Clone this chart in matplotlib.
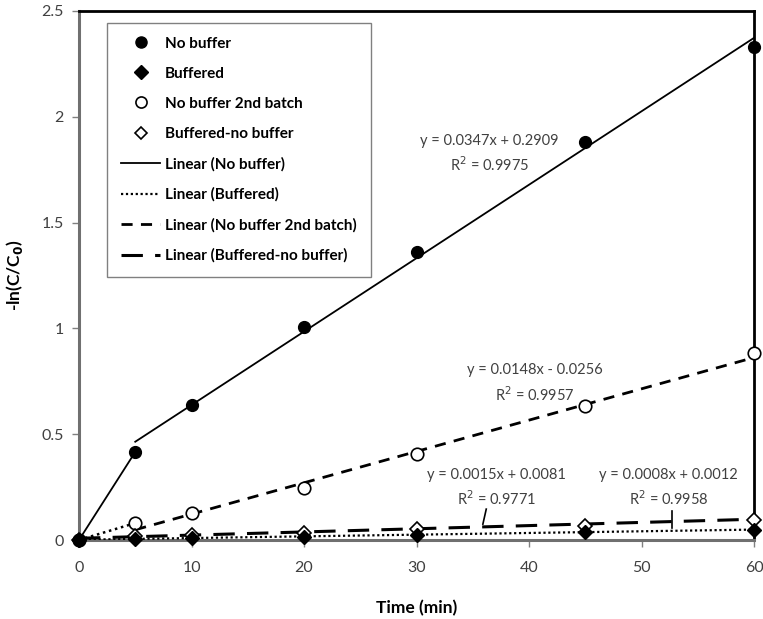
import matplotlib
matplotlib.use("Agg")
import matplotlib.pyplot as plt
from matplotlib.lines import Line2D
import numpy as np

plt.rcParams['font.family'] = ['Lato', 'DejaVu Sans']

# Sampling times (min)
time = [0, 5, 10, 20, 30, 45, 60]

# -ln(C/C0) for each run
no_buffer = [0, 0.416, 0.638, 1.005, 1.36, 1.88, 2.33]
buffered = [0, 0.005, 0.008, 0.015, 0.025, 0.038, 0.047]
no_buffer_2nd = [0, 0.08, 0.128, 0.246, 0.407, 0.632, 0.884]
buffered_no_buffer = [0, 0.02, 0.025, 0.035, 0.05, 0.068, 0.095]

# Linear trendline coefficients (slope, intercept) and R^2
fit_no_buffer = (0.0347, 0.2909, 0.9975)
fit_buffered = (0.0008, 0.0012, 0.9958)
fit_2nd = (0.0148, -0.0256, 0.9957)
fit_bnb = (0.0015, 0.0081, 0.9771)

x_ticks = [0, 10, 20, 30, 40, 50, 60]
y_ticks = [0, 0.5, 1, 1.5, 2, 2.5]

fig = plt.figure(figsize=(7.63, 6.19), dpi=100)
ax = fig.add_axes([79 / 763, 1 - 540 / 619, (754 - 79) / 763, (540 - 11) / 619])

txt_col = '#404040'

def line(fit, x0, x1):
    xs = np.array([x0, x1])
    return xs, fit[0] * xs + fit[1]

# trendlines
xs, ys = line(fit_no_buffer, 5, 60)
ax.plot(xs, ys, color='black', lw=1.3, zorder=3)
xs, ys = line(fit_buffered, 0, 60)
ax.plot(xs, ys, color='black', lw=1.6, ls=(0, (1, 1.2)), zorder=3)
xs, ys = line(fit_2nd, 5, 60)
ax.plot(xs, ys, color='black', lw=2.0, ls=(0, (4, 3)), zorder=3)
xs, ys = line(fit_bnb, 0, 60)
ax.plot(xs, ys, color='black', lw=2.2, ls=(0, (7, 4)), zorder=3)

# early segments joining the first two readings
ax.plot(time[:2], no_buffer[:2], color='black', lw=1.3, zorder=3)
ax.plot(time[:2], no_buffer_2nd[:2], color='black', lw=1.8, ls=(0, (1, 1.5)), zorder=3)

# data markers
ax.plot(time, no_buffer, 'o', color='black', ms=8.5, zorder=5, clip_on=False)
ax.plot(time, no_buffer_2nd, 'o', mfc='white', mec='black', mew=1.2, ms=9, zorder=4, clip_on=False)
ax.plot(time, buffered_no_buffer, 'D', mfc='white', mec='black', mew=1.2, ms=7, zorder=4, clip_on=False)
ax.plot(time, buffered, 'D', color='black', ms=7, zorder=6, clip_on=False)

ax.set_xlim(0, 60)
ax.set_ylim(0, 2.5)
ax.set_xticks(x_ticks)
ax.set_yticks(y_ticks)
ax.set_xticklabels([str(v) for v in x_ticks])
ax.set_yticklabels(['0', '0.5', '1', '1.5', '2', '2.5'])
ax.tick_params(axis='both', direction='out', length=5, width=1, colors='#808080',
               labelcolor=txt_col, labelsize=11.5)
ax.tick_params(axis='x', pad=10)
ax.tick_params(axis='y', pad=6)

for side in ['left', 'bottom']:
    ax.spines[side].set_color('#707070')
    ax.spines[side].set_linewidth(2.2)
for side in ['top', 'right']:
    ax.spines[side].set_color('black')
    ax.spines[side].set_linewidth(2.0)

ax.set_xlabel('Time (min)', fontsize=12.5, fontweight='bold', color='black')
ax.set_ylabel('-ln(C/C$_\\mathbf{0}$)', fontsize=12.5, fontweight='bold', color='black')
ax.xaxis.set_label_coords(0.5, -60 / 529)
ax.yaxis.set_label_coords(-54 / 675, 0.5)

# equation labels
eq_kw = dict(fontsize=10.5, color=txt_col, ha='center', va='center', linespacing=1.5)

def eq_text(fit):
    sign = '+' if fit[1] >= 0 else '-'
    return f'y = {fit[0]:.4f}x {sign} {abs(fit[1]):.4f}\nR$^2$ = {fit[2]:.4f}'

ax.text(36.5, 1.825, eq_text(fit_no_buffer), **eq_kw)
ax.text(40.5, 0.74, eq_text(fit_2nd), **eq_kw)
ax.text(37.1, 0.245, eq_text(fit_bnb), **eq_kw)
ax.text(52.4, 0.245, eq_text(fit_buffered), **eq_kw)

# leader lines from labels to trendlines
ax.plot([36.2, 35.9], [0.146, 0.075], color='black', lw=1.2, zorder=3)
ax.plot([52.7, 52.7], [0.135, 0.055], color='black', lw=1.2, zorder=3)

# legend
handles = [
    Line2D([], [], ls='none', marker='o', color='black', ms=8),
    Line2D([], [], ls='none', marker='D', color='black', ms=7),
    Line2D([], [], ls='none', marker='o', mfc='white', mec='black', mew=1.2, ms=8),
    Line2D([], [], ls='none', marker='D', mfc='white', mec='black', mew=1.2, ms=6.5),
    Line2D([], [], color='black', lw=1.3),
    Line2D([], [], color='black', lw=1.6, ls=(0, (1, 1.2))),
    Line2D([], [], color='black', lw=2.0, ls=(0, (4, 3))),
    Line2D([], [], color='black', lw=2.2, ls=(0, (7, 4))),
]
labels = ['No buffer', 'Buffered', 'No buffer 2nd batch', 'Buffered-no buffer',
          'Linear (No buffer)', 'Linear (Buffered)', 'Linear (No buffer 2nd batch)',
          'Linear (Buffered-no buffer)']
leg = ax.legend(handles, labels, loc='upper left', bbox_to_anchor=(28 / 675, 1 - 12 / 529),
                frameon=True, fancybox=False, edgecolor='#808080', framealpha=1,
                prop={'weight': 'bold', 'size': 11}, handlelength=2.6, handletextpad=0.3,
                labelspacing=1.05, borderpad=0.9, borderaxespad=0)
leg.get_frame().set_linewidth(1.0)

fig.savefig('out.png', dpi=100)
